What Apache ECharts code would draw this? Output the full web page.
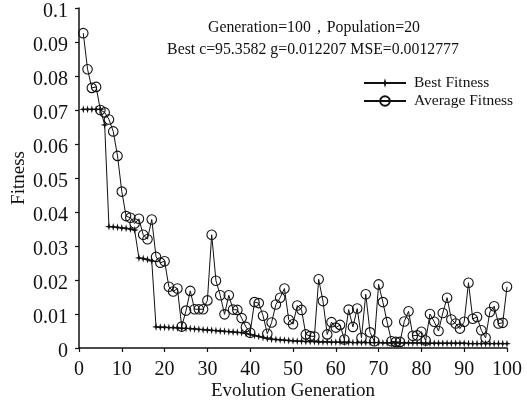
<!DOCTYPE html>
<html>
<head>
<meta charset="utf-8">
<script src="https://cdn.jsdelivr.net/npm/echarts@6/dist/echarts.min.js"></script>
<style>
html,body{margin:0;padding:0;background:#fff;}
#chart{width:527px;height:409px;}
</style>
</head>
<body>
<div id="chart"></div>
<script>
const generations = [1,2,3,4,5,6,7,8,9,10,11,12,13,14,15,16,17,18,19,20,21,22,23,24,25,26,27,28,29,30,31,32,33,34,35,36,37,38,39,40,41,42,43,44,45,46,47,48,49,50,51,52,53,54,55,56,57,58,59,60,61,62,63,64,65,66,67,68,69,70,71,72,73,74,75,76,77,78,79,80,81,82,83,84,85,86,87,88,89,90,91,92,93,94,95,96,97,98,99,100];

const bestFitness = [
0.0702,0.0702,0.0702,0.0702,0.0702,0.0656,0.0357,0.0356,0.0355,0.0353,
0.0352,0.0350,0.0347,0.0265,0.0263,0.0260,0.0256,0.0062,0.0061,0.0061,
0.0060,0.0060,0.0059,0.0058,0.0058,0.0057,0.0056,0.0055,0.0054,0.0053,
0.0052,0.0051,0.0050,0.0049,0.0048,0.0047,0.0046,0.0045,0.0043,0.0040,
0.0037,0.0034,0.0031,0.0028,0.0026,0.0025,0.0024,0.0023,0.0022,0.0021,
0.0020,0.0020,0.0019,0.0019,0.0019,0.0018,0.0018,0.0018,0.0017,0.0017,
0.0017,0.0017,0.0017,0.0016,0.0016,0.0016,0.0016,0.0016,0.0016,0.0016,
0.0015,0.0015,0.0015,0.0015,0.0015,0.0015,0.0015,0.0015,0.0015,0.0015,
0.0014,0.0014,0.0014,0.0014,0.0014,0.0014,0.0014,0.0014,0.0014,0.0014,
0.0013,0.0013,0.0013,0.0013,0.0013,0.0013,0.0013,0.0013,0.0013,0.00128
];

const averageFitness = [
0.0926,0.0820,0.0765,0.0768,0.0700,0.0693,0.0672,0.0637,0.0565,0.0460,
0.0388,0.0383,0.0366,0.0380,0.0333,0.0320,0.0378,0.0268,0.0251,0.0255,
0.0180,0.0166,0.0175,0.0063,0.0110,0.0168,0.0114,0.0114,0.0114,0.0140,
0.0333,0.0198,0.0155,0.0099,0.0155,0.0113,0.0112,0.0088,0.0062,0.0045,
0.0135,0.0132,0.0095,0.0042,0.0075,0.0128,0.0148,0.0175,0.0083,0.0070,
0.0125,0.0112,0.0040,0.0035,0.0034,0.0202,0.0138,0.0040,0.0076,0.0060,
0.0068,0.0025,0.0113,0.0062,0.0116,0.0030,0.0158,0.0046,0.0020,0.0187,
0.0135,0.0076,0.0020,0.0018,0.0018,0.0078,0.0108,0.0036,0.0037,0.0048,
0.0022,0.0100,0.0077,0.0050,0.0103,0.0148,0.0084,0.0072,0.0057,0.0077,
0.0192,0.0086,0.0091,0.0052,0.0030,0.0106,0.0123,0.0072,0.0074,0.0180
];

const titleLines = ['Generation=100，Population=20', 'Best c=95.3582 g=0.012207 MSE=0.0012777'];
const seriesNames = ['Best Fitness', 'Average Fitness'];

const FONT = '"Liberation Serif", "Times New Roman", serif';
const chart = echarts.init(document.getElementById('chart'), null, {renderer: 'canvas'});

const starPath = 'path://M4,0 L4.9,3.1 L8,4 L4.9,4.9 L4,8 L3.1,4.9 L0,4 L3.1,3.1 Z';

chart.setOption({
  animation: false,
  backgroundColor: '#fff',
  graphic: [
    {type: 'text', x: 314, y: 28, style: {text: titleLines[0], font: '15.8px ' + FONT, fill: '#111', align: 'center', verticalAlign: 'middle'}},
    {type: 'text', x: 313, y: 50, style: {text: titleLines[1], font: '15.8px ' + FONT, fill: '#111', align: 'center', verticalAlign: 'middle'}}
  ],
  legend: {
    orient: 'vertical',
    left: 358,
    top: 70,
    itemWidth: 42,
    itemHeight: 12,
    itemGap: 2,
    textStyle: {fontFamily: FONT, fontSize: 15.5, color: '#111', padding: [0, 0, 0, 3]},
    data: seriesNames
  },
  grid: {left: 79, right: 20, top: 8, bottom: 61, containLabel: false, outerBoundsMode: 'none'},
  xAxis: {
    type: 'value',
    min: 0, max: 100, interval: 10,
    name: 'Evolution Generation',
    nameLocation: 'middle',
    nameGap: 34,
    nameMoveOverlap: false,
    nameTextStyle: {fontFamily: FONT, fontSize: 19, color: '#111'},
    axisLine: {lineStyle: {color: '#111', width: 1.5}},
    axisTick: {length: 4, lineStyle: {color: '#111', width: 1.2}},
    axisLabel: {fontFamily: FONT, fontSize: 20, color: '#111', margin: 12},
    splitLine: {show: false}
  },
  yAxis: {
    type: 'value',
    min: 0, max: 0.1, interval: 0.01,
    name: 'Fitness',
    nameLocation: 'middle',
    nameGap: 50,
    nameMoveOverlap: false,
    nameTextStyle: {fontFamily: FONT, fontSize: 19, color: '#111'},
    axisLine: {show: true, lineStyle: {color: '#111', width: 1.5}},
    axisTick: {show: true, length: 4, lineStyle: {color: '#111', width: 1.2}},
    axisLabel: {fontFamily: FONT, fontSize: 20, color: '#111', margin: 11,
      verticalAlign: 'top', lineHeight: 8,
      formatter: v => String(+v.toFixed(2))},
    splitLine: {show: false}
  },
  series: [
    {
      name: seriesNames[0],
      type: 'line',
      data: generations.map((g, i) => [g, bestFitness[i]]),
      symbol: starPath,
      symbolSize: 8,
      showAllSymbol: true,
      lineStyle: {color: '#111', width: 1},
      itemStyle: {color: '#111', borderWidth: 0},
      z: 3
    },
    {
      name: seriesNames[1],
      type: 'line',
      data: generations.map((g, i) => [g, averageFitness[i]]),
      symbol: 'circle',
      symbolSize: 9.5,
      showAllSymbol: true,
      lineStyle: {color: '#111', width: 1},
      itemStyle: {color: 'rgba(255,255,255,0)', borderColor: '#111', borderWidth: 1.1},
      z: 2
    }
  ]
});
</script>
</body>
</html>
